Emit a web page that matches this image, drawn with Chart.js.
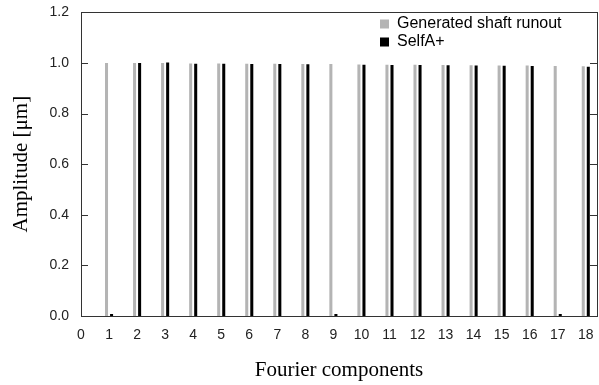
<!doctype html>
<html lang="en">
  <head>
    <meta charset="utf-8">
    <title>Fourier components</title>
    <style>
      body { margin: 0; background: #fff; }
      #wrap { width: 599px; height: 385px; }
    </style>
  </head>
  <body>
<div id="wrap"><canvas id="myChart" width="599" height="385"></canvas></div>
<script src="https://cdn.jsdelivr.net/npm/chart.js"></script>
<script>
// harmonic numbers on the x axis
var components = [1, 2, 3, 4, 5, 6, 7, 8, 9, 10, 11, 12, 13, 14, 15, 16, 17, 18];
// amplitudes [um]
var generated = [1.000, 1.000, 1.000, 0.998, 0.998, 0.997, 0.997, 0.996, 0.996,
                 0.994, 0.993, 0.993, 0.992, 0.991, 0.990, 0.990, 0.988, 0.987];
var selfA = [0.008, 1.000, 1.002, 0.997, 0.997, 0.996, 0.996, 0.995, 0.008,
             0.993, 0.992, 0.992, 0.991, 0.990, 0.989, 0.988, 0.008, 0.985];
var yTicks = [0, 0.2, 0.4, 0.6, 0.8, 1.0, 1.2];

function pts(vals) {
  return components.map(function(c, i) { return {x: c, y: vals[i]}; });
}

// box round the plot + inward ticks left and right
var frame = {
  id: 'frame',
  afterDraw: function(chart) {
    var ctx = chart.ctx, a = chart.chartArea, y = chart.scales.y;
    ctx.save();
    ctx.strokeStyle = '#333';
    ctx.lineWidth = 1;
    ctx.strokeRect(Math.round(a.left) + 0.5, Math.round(a.top) + 0.5,
                   Math.round(a.right - a.left), Math.round(a.bottom - a.top));
    ctx.beginPath();
    y.ticks.forEach(function(t) {
      var p = Math.round(y.getPixelForValue(t.value)) + 0.5;
      ctx.moveTo(a.left, p); ctx.lineTo(a.left + 7, p);
      ctx.moveTo(a.right, p); ctx.lineTo(a.right - 7, p);
    });
    ctx.stroke();
    ctx.restore();
  }
};

// move the legend to the upper right inside the plot
var legendPos = {
  id: 'legendPos',
  afterLayout: function(chart) {
    var l = chart.legend;
    l.left = 378;
    l.top = 14;
    l.right = l.left + l.width;
    l.bottom = l.top + 100;
  }
};

Chart.defaults.font.family = '"Liberation Sans", Arial, sans-serif';
Chart.defaults.color = '#222';

new Chart(document.getElementById('myChart'), {
  type: 'bar',
  data: {
    datasets: [{
      label: 'Generated shaft runout',
      data: pts(generated),
      backgroundColor: '#b4b4b4',
      borderWidth: 0
    }, {
      label: 'SelfA+',
      data: pts(selfA),
      backgroundColor: '#000',
      borderWidth: 0
    }]
  },
  options: {
    responsive: false,
    animation: false,
    categoryPercentage: 0.36,
    barPercentage: 0.6,
    layout: { padding: { top: 12, right: 2, left: 0, bottom: 0 } },
    plugins: {
      legend: {
        position: 'chartArea',
        align: 'start',
        labels: {
          boxWidth: 9,
          boxHeight: 9,
          padding: 2,
          color: '#000',
          font: { size: 16 }
        }
      },
      tooltip: { enabled: false }
    },
    scales: {
      x: {
        type: 'linear',
        offset: false,
        min: 0,
        max: 18.4,
        grid: { display: false, offset: false },
        border: { display: false },
        ticks: {
          stepSize: 1,
          includeBounds: false,
          autoSkip: false,
          maxRotation: 0,
          padding: 3,
          font: { size: 14 }
        },
        title: {
          display: true,
          text: 'Fourier components',
          font: { family: '"Liberation Serif", "Times New Roman", serif', size: 21 },
          color: '#000',
          padding: { top: 0, bottom: 2 }
        },
        afterFit: function(s) { s.height = 69; }
      },
      y: {
        min: 0,
        max: 1.2,
        grid: { display: false },
        border: { display: false },
        afterBuildTicks: function(s) {
          s.ticks = yTicks.map(function(v) { return {value: v}; });
        },
        ticks: {
          padding: 4,
          font: { size: 14 },
          callback: function(v) { return v.toFixed(1); }
        },
        title: {
          display: true,
          text: 'Amplitude [μm]',
          font: { family: '"Liberation Serif", "Times New Roman", serif', size: 21 },
          color: '#000',
          padding: { top: 9, bottom: 0 }
        },
        afterFit: function(s) { s.width = 81; }
      }
    }
  },
  plugins: [frame, legendPos]
});
</script>
  </body>
</html>
